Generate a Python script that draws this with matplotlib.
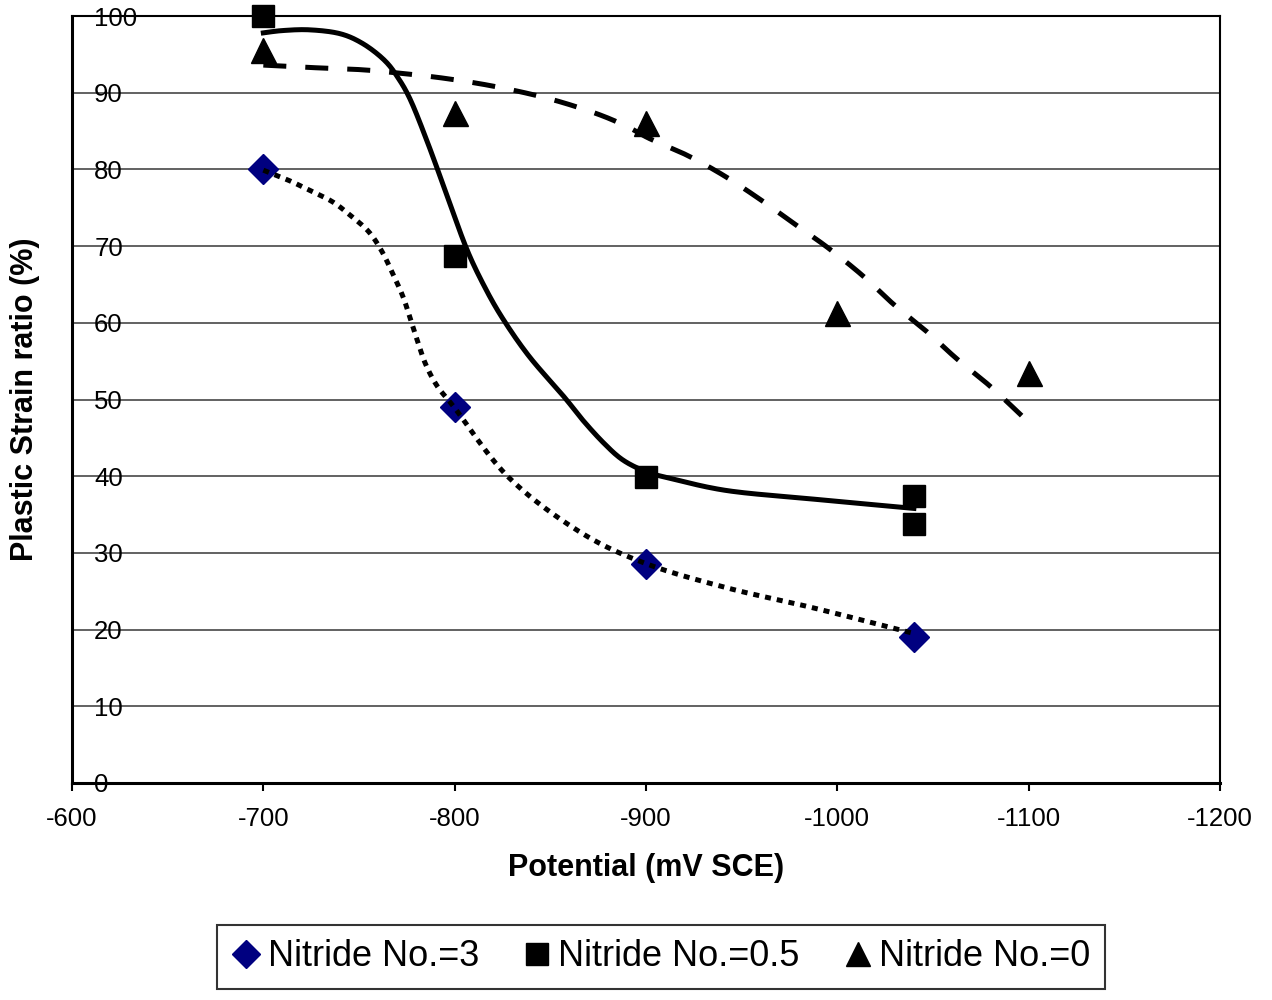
import numpy as np
import matplotlib
matplotlib.use("Agg")
import matplotlib.pyplot as plt
from matplotlib.lines import Line2D

plt.rcParams['font.family'] = ['Liberation Sans', 'DejaVu Sans']
plt.rcParams['axes.unicode_minus'] = False

# measured points
x_n3 = [-700, -800, -900, -1040]
y_n3 = [80, 49, 28.5, 19]

x_n05 = [-700, -800, -900, -1040, -1040]
y_n05 = [100, 68.7, 39.9, 37.4, 33.8]

x_n0 = [-700, -800, -900, -1000, -1100]
y_n0 = [95.6, 87.4, 86.0, 61.3, 53.5]

# smoothed curves
cx_n3 = [-700, -713, -724, -736, -745, -755, -762, -768, -773, -777, -781, -785, -791, -800,
         -828, -865, -900, -943, -988, -1040]
cy_n3 = [79.9, 78.6, 77.3, 75.8, 74.1, 71.9, 69.3, 66.2, 63.4, 60.4, 57.3, 54.5, 51.7, 48.9,
         39.9, 32.8, 28.6, 25.4, 22.8, 19.5]

cx_n05 = [-700, -710, -724, -740, -752, -763, -770, -777, -786, -796, -806, -815, -825,
          -839, -857, -867, -878, -888, -900, -913, -943, -988, -1040]
cy_n05 = [97.8, 98.1, 98.2, 97.7, 96.4, 94.3, 92.1, 89.0, 83.4, 76.6, 69.8, 65.0, 60.6,
          55.6, 50.4, 47.3, 44.3, 42.1, 40.6, 39.7, 38.1, 37.0, 35.8]

cx_n0 = [-700, -723, -751, -773, -794, -817, -840, -858, -876, -890, -902, -921, -940, -959,
         -977, -995, -1013, -1029, -1047, -1062, -1080, -1098]
cy_n0 = [93.6, 93.3, 93.0, 92.5, 91.9, 91.0, 89.8, 88.6, 87.1, 85.6, 84.0, 81.9, 79.3, 76.2,
         73.0, 69.8, 66.2, 62.5, 58.8, 55.4, 51.7, 47.5]

labels = ["Nitride No.=3", "Nitride No.=0.5", "Nitride No.=0"]


def smooth(xs, ys, n=20):
    # catmull-rom through the read points
    p = np.column_stack([xs, ys]).astype(float)
    p = np.vstack([p[0], p, p[-1]])
    t = np.linspace(0, 1, n)[:, None]
    out = []
    for i in range(1, len(p) - 2):
        p0, p1, p2, p3 = p[i - 1], p[i], p[i + 1], p[i + 2]
        seg = 0.5 * (2 * p1 + (-p0 + p2) * t + (2 * p0 - 5 * p1 + 4 * p2 - p3) * t ** 2
                     + (-p0 + 3 * p1 - 3 * p2 + p3) * t ** 3)
        out.append(seg if i == 1 else seg[1:])
    out = np.vstack(out)
    return out[:, 0], out[:, 1]


fig = plt.figure(figsize=(12.72, 10), dpi=100)
ax = fig.add_axes([72 / 1272, 1 - 783 / 1000, 1148 / 1272, 767 / 1000])

ax.set_xlim(-600, -1200)
ax.set_ylim(0, 100)
ax.set_xticks(np.arange(-600, -1201, -100))
ax.set_yticks(np.arange(0, 101, 10))
ax.grid(axis='y', color='#555555', lw=1.3)
ax.set_axisbelow(True)

# curves
sx, sy = smooth(cx_n3, cy_n3)
ax.plot(sx, sy, color='black', lw=3.6, dashes=(1.2, 1.2), dash_capstyle='butt', zorder=4)
sx, sy = smooth(cx_n05, cy_n05)
ax.plot(sx, sy, color='black', lw=3.6, zorder=4)
sx, sy = smooth(cx_n0, cy_n0)
ax.plot(sx, sy, color='black', lw=3.6, dashes=(4.6, 3.8), dash_capstyle='butt', zorder=4)

# markers
ax.plot(x_n3, y_n3, ls='none', marker='D', ms=15, color='#000080', clip_on=False, zorder=3)
ax.plot(x_n05, y_n05, ls='none', marker='s', ms=16.5, color='black', clip_on=False, zorder=3)
ax.plot(x_n0, y_n0, ls='none', marker='^', ms=18, color='black', clip_on=False, zorder=3)

for side in ['left', 'bottom']:
    ax.spines[side].set_linewidth(2.2)
for side in ['top', 'right']:
    ax.spines[side].set_linewidth(1.5)

ax.tick_params(axis='x', direction='out', length=6, width=1.5, pad=11, labelsize=18.5)
ax.tick_params(axis='y', direction='in', length=0, pad=-16, labelsize=18.5)
for lab in ax.get_yticklabels():
    lab.set_horizontalalignment('left')

ax.set_xlabel("Potential (mV SCE)", fontsize=22, fontweight='bold')
ax.xaxis.set_label_coords(0.5, (783 - 868) / 767)
ax.xaxis.label.set_va('center')
ax.set_ylabel("Plastic Strain ratio (%)", fontsize=22, fontweight='bold')
ax.yaxis.set_label_coords((25 - 72) / 1148, 0.5)
ax.yaxis.label.set_va('center')

handles = [
    Line2D([], [], ls='none', marker='D', ms=14, color='#000080'),
    Line2D([], [], ls='none', marker='s', ms=16, color='black'),
    Line2D([], [], ls='none', marker='^', ms=17, color='black'),
]
leg = fig.legend(handles, labels, loc='center', bbox_to_anchor=(661 / 1272, 1 - 957 / 1000),
                 ncol=3, fontsize=26, frameon=True, fancybox=False, edgecolor='black',
                 handlelength=0.8, handletextpad=0.2, columnspacing=1.2, borderpad=0.4)
leg.get_frame().set_linewidth(1.5)

fig.savefig("out.png", dpi=100)
